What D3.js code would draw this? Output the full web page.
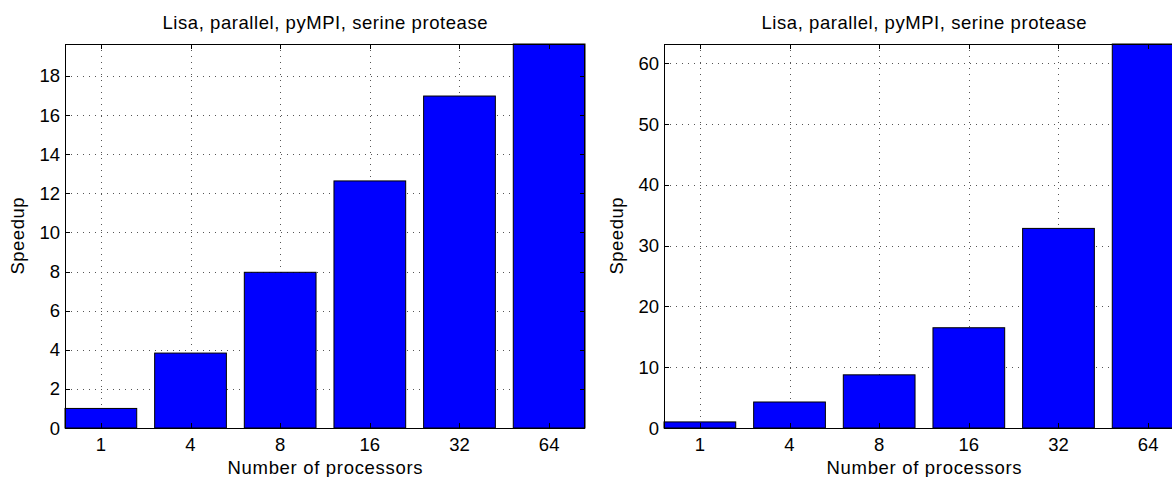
<!DOCTYPE html>
<html>
<head>
<meta charset="utf-8">
<script src="https://cdn.jsdelivr.net/npm/d3@7"></script>
<style>
  body { margin: 0; background: #fff; }
  svg { display: block; }
  text { font-family: "Liberation Sans", Arial, sans-serif; fill: #000; }
</style>
</head>
<body>
<svg id="chart" width="1172" height="477"></svg>
<script>
// ---- data ----
const categories = ["1", "4", "8", "16", "32", "64"];
const speedupLeft = [1.0, 3.83, 7.96, 12.63, 16.97, 19.63];
const speedupRight = [1.0, 4.28, 8.75, 16.5, 32.85, 63.2];
const yTicksLeft = [0, 2, 4, 6, 8, 10, 12, 14, 16, 18];
const yTicksRight = [0, 10, 20, 30, 40, 50, 60];
const titleText = "Lisa, parallel, pyMPI, serine protease";
const xLabelText = "Number of processors";
const yLabelText = "Speedup";

const svg = d3.select("#chart");

function drawPanel(left, values, yTicks) {
  const top = 44, bottom = 428, width = 520;
  const right = left + width;
  const g = svg.append("g");
  const idx = categories.map((d, i) => i + 1);
  const x = d3.scaleLinear().domain([0.6, 6.4]).range([left, right]);
  const y = d3.scaleLinear().domain([0, d3.max(values)]).range([bottom, top]);
  const tickLen = 5;

  // grid
  const grid = g.append("g").attr("stroke", "#555").attr("stroke-width", 1)
    .attr("stroke-dasharray", "1,5").attr("shape-rendering", "crispEdges");
  grid.selectAll("line.gx").data(idx).join("line")
    .attr("x1", d => Math.round(x(d)) + 0.5).attr("x2", d => Math.round(x(d)) + 0.5)
    .attr("y1", top).attr("y2", bottom);
  grid.selectAll("line.gy").data(yTicks.filter(t => t > 0)).join("line")
    .attr("y1", d => Math.round(y(d)) + 0.5).attr("y2", d => Math.round(y(d)) + 0.5)
    .attr("x1", left).attr("x2", right);

  // bars
  const bw = x(1.4) - x(0.6);
  g.append("g").selectAll("rect").data(values).join("rect")
    .attr("x", (d, i) => x(i + 1) - bw / 2)
    .attr("y", d => y(d))
    .attr("width", bw)
    .attr("height", d => bottom - y(d))
    .attr("fill", "#0000ff")
    .attr("stroke", "#000")
    .attr("stroke-width", 1);

  // ticks (inward, all four sides)
  const tk = g.append("g").attr("stroke", "#000").attr("stroke-width", 1)
    .attr("shape-rendering", "crispEdges");
  idx.forEach(d => {
    const xx = Math.round(x(d)) + 0.5;
    tk.append("line").attr("x1", xx).attr("x2", xx).attr("y1", bottom).attr("y2", bottom - tickLen);
    tk.append("line").attr("x1", xx).attr("x2", xx).attr("y1", top).attr("y2", top + tickLen);
  });
  yTicks.forEach(t => {
    const yy = Math.round(y(t)) + 0.5;
    tk.append("line").attr("x1", left).attr("x2", left + tickLen).attr("y1", yy).attr("y2", yy);
    tk.append("line").attr("x1", right).attr("x2", right - tickLen).attr("y1", yy).attr("y2", yy);
  });

  // frame
  g.append("rect").attr("x", left + 0.5).attr("y", top + 0.5)
    .attr("width", width - 1).attr("height", bottom - top)
    .attr("fill", "none").attr("stroke", "#000").attr("stroke-width", 1)
    .attr("shape-rendering", "crispEdges");

  // tick labels
  g.append("g").selectAll("text").data(categories).join("text")
    .attr("x", (d, i) => x(i + 1)).attr("y", 451)
    .attr("text-anchor", "middle").attr("font-size", 18.5).text(d => d);
  g.append("g").selectAll("text").data(yTicks).join("text")
    .attr("x", left - 5).attr("y", d => y(d) + 6.5)
    .attr("text-anchor", "end").attr("font-size", 18.5).text(d => d);

  // title & labels
  const cx = (left + right) / 2;
  g.append("text").attr("x", cx).attr("y", 29).attr("text-anchor", "middle")
    .attr("font-size", 18.5).attr("textLength", 325).attr("lengthAdjust", "spacing")
    .text(titleText);
  g.append("text").attr("x", cx).attr("y", 474).attr("text-anchor", "middle")
    .attr("font-size", 18.5).attr("textLength", 195).attr("lengthAdjust", "spacing")
    .text(xLabelText);
  g.append("text").attr("transform", `translate(${left - 41},${(top + bottom) / 2}) rotate(-90)`)
    .attr("text-anchor", "middle").attr("font-size", 18.5)
    .attr("textLength", 77).attr("lengthAdjust", "spacing")
    .text(yLabelText);
}

drawPanel(65, speedupLeft, yTicksLeft);
drawPanel(664, speedupRight, yTicksRight);
</script>
</body>
</html>
